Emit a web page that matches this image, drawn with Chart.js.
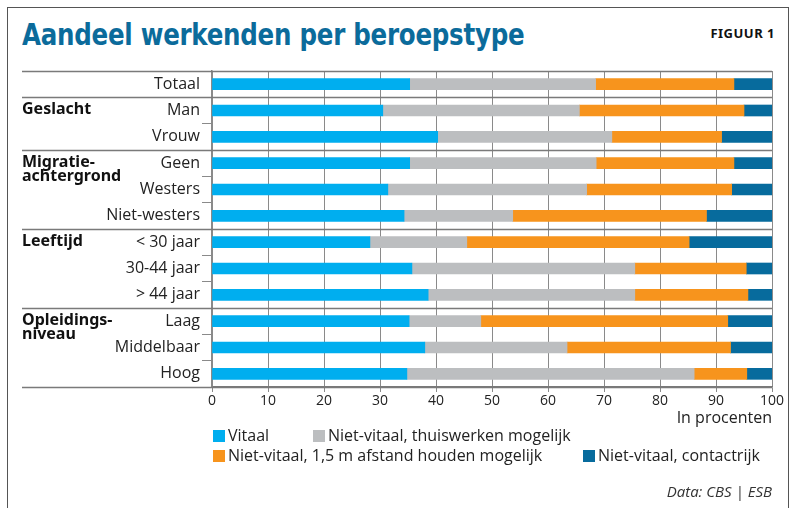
<!DOCTYPE html>
<html>
<head>
<meta charset="utf-8">
<script src="https://cdn.jsdelivr.net/npm/chart.js@4/dist/chart.umd.min.js"></script>
<style>
  body { margin: 0; background: #fff; }
  #wrap { position: relative; width: 796px; height: 508px; overflow: hidden; }
  #frame { position: absolute; left: 7px; top: 7px; width: 782px; height: 520px; border: 1.5px solid #555; box-sizing: border-box; }
  #title { position: absolute; left: 22px; top: 16px; font: bold 31px "DejaVu Sans Condensed", "DejaVu Sans", sans-serif; color: #0b6b9b; letter-spacing: -0.3px; transform: scaleX(0.88); transform-origin: left top; white-space: nowrap; }
  #fig { position: absolute; right: 21px; top: 24px; font: bold 13px "Noto Sans", sans-serif; color: #111; letter-spacing: 0.5px; }
  #source { position: absolute; right: 24px; top: 481px; font: italic 15px "Open Sans", sans-serif; color: #333; }
  canvas { position: absolute; left: 0; top: 0; }
</style>
</head>
<body>
<div id="wrap">
  <div id="frame"></div>
  <div id="title">Aandeel werkenden per beroepstype</div>
  <div id="fig">FIGUUR 1</div>
  <canvas id="myChart" width="796" height="508"></canvas>
  <div id="source">Data: CBS | ESB</div>
</div>
<script>
// categories (rows, top to bottom)
const categories = ['Totaal', 'Man', 'Vrouw', 'Geen', 'Westers', 'Niet-westers',
    '< 30 jaar', '30-44 jaar', '> 44 jaar', 'Laag', 'Middelbaar', 'Hoog'];

// group headings: label lines and the row they start at
const groupNames = [['Geslacht'], ['Migratie-', 'achtergrond'], ['Leeftijd'], ['Opleidings-', 'niveau']];
const groupStarts = [1, 3, 6, 9];

// shares in percent
const vitaal =       [35.3, 30.5, 40.3, 35.3, 31.4, 34.3, 28.2, 35.7, 38.6, 35.2, 38.0, 34.8];
const thuiswerken =  [33.2, 35.1, 31.1, 33.3, 35.5, 19.4, 17.3, 39.8, 36.9, 12.8, 25.4, 51.3];
const afstand =      [24.7, 29.4, 19.6, 24.6, 25.9, 34.6, 39.7, 19.9, 20.2, 44.1, 29.2, 9.4];
const contactrijk =  [6.8, 5.0, 9.0, 6.8, 7.2, 11.7, 14.8, 4.6, 4.3, 7.9, 7.4, 4.5];

const seriesNames = ['Vitaal', 'Niet-vitaal, thuiswerken mogelijk',
    'Niet-vitaal, 1,5 m afstand houden mogelijk', 'Niet-vitaal, contactrijk'];
const seriesColors = ['#00aeef', '#bcbec0', '#f7941d', '#076b9d'];

const xTicks = [0, 10, 20, 30, 40, 50, 60, 70, 80, 90, 100];

const FONT = '"Open Sans", "Noto Sans", sans-serif';

// separators, group labels, unit label and legend
const extras = {
    id: 'extras',
    afterDraw(chart) {
        const ctx = chart.ctx;
        const y = chart.scales.y;
        const x = chart.scales.x;
        const half = (y.getPixelForValue(1) - y.getPixelForValue(0)) / 2;
        ctx.save();

        // horizontal separators between groups
        ctx.strokeStyle = '#7a7a7a';
        ctx.lineWidth = 1.5;
        const seps = [0].concat(groupStarts, [categories.length]);
        seps.forEach(i => {
            const py = Math.round(y.getPixelForValue(i) - half) + 0.5;
            ctx.beginPath();
            ctx.moveTo(22, py);
            ctx.lineTo(x.getPixelForValue(100), py);
            ctx.stroke();
        });

        // bold group labels
        ctx.fillStyle = '#111';
        ctx.font = 'bold 16px "Noto Sans", sans-serif';
        ctx.textAlign = 'left';
        ctx.textBaseline = 'middle';
        groupNames.forEach((lines, g) => {
            const py = y.getPixelForValue(groupStarts[g]) - 1;
            lines.forEach((t, k) => ctx.fillText(t, 22, py + k * 14));
        });

        // unit label
        ctx.font = '16px ' + FONT;
        ctx.fillStyle = '#222';
        ctx.textAlign = 'right';
        ctx.fillText('In procenten', x.getPixelForValue(100), 418);

        // legend
        const items = [[213, 436], [313, 436], [213, 456], [583, 456]];
        ctx.textAlign = 'left';
        items.forEach((p, i) => {
            ctx.fillStyle = seriesColors[i];
            ctx.fillRect(p[0], p[1] - 6, 12, 12);
            ctx.fillStyle = '#222';
            ctx.fillText(seriesNames[i], p[0] + 15, p[1]);
        });
        ctx.restore();
    }
};

const series = [vitaal, thuiswerken, afstand, contactrijk];
const ctx = document.getElementById('myChart').getContext('2d');
const myChart = new Chart(ctx, {
    type: 'bar',
    data: {
        labels: categories,
        datasets: series.map((vals, i) => ({
            label: seriesNames[i],
            data: vals,
            backgroundColor: seriesColors[i],
            borderWidth: 0,
            barThickness: 11,
        }))
    },
    plugins: [extras],
    options: {
        indexAxis: 'y',
        responsive: false,
        animation: false,
        layout: { padding: { top: 71, right: 24, left: 0, bottom: 0 } },
        plugins: {
            legend: { display: false },
            tooltip: { enabled: false },
        },
        scales: {
            x: {
                stacked: true,
                min: 0,
                max: 100,
                afterFit: s => { s.height = 121; },
                afterBuildTicks: s => { s.ticks = xTicks.map(v => ({ value: v })); },
                grid: { color: '#8a8a8a', lineWidth: 1, tickLength: 5 },
                border: { color: '#7a7a7a', width: 1.5 },
                ticks: { color: '#222', font: { family: FONT, size: 14 }, padding: 1, maxRotation: 0 },
            },
            y: {
                stacked: true,
                afterFit: s => { s.width = 212; },
                grid: { drawOnChartArea: false, color: '#8a8a8a', tickLength: 10, offset: true },
                border: { color: '#8a8a8a', width: 1.5 },
                ticks: { color: '#222', font: { family: FONT, size: 16 }, padding: 2, autoSkip: false },
            }
        }
    }
});
</script>
</body>
</html>
